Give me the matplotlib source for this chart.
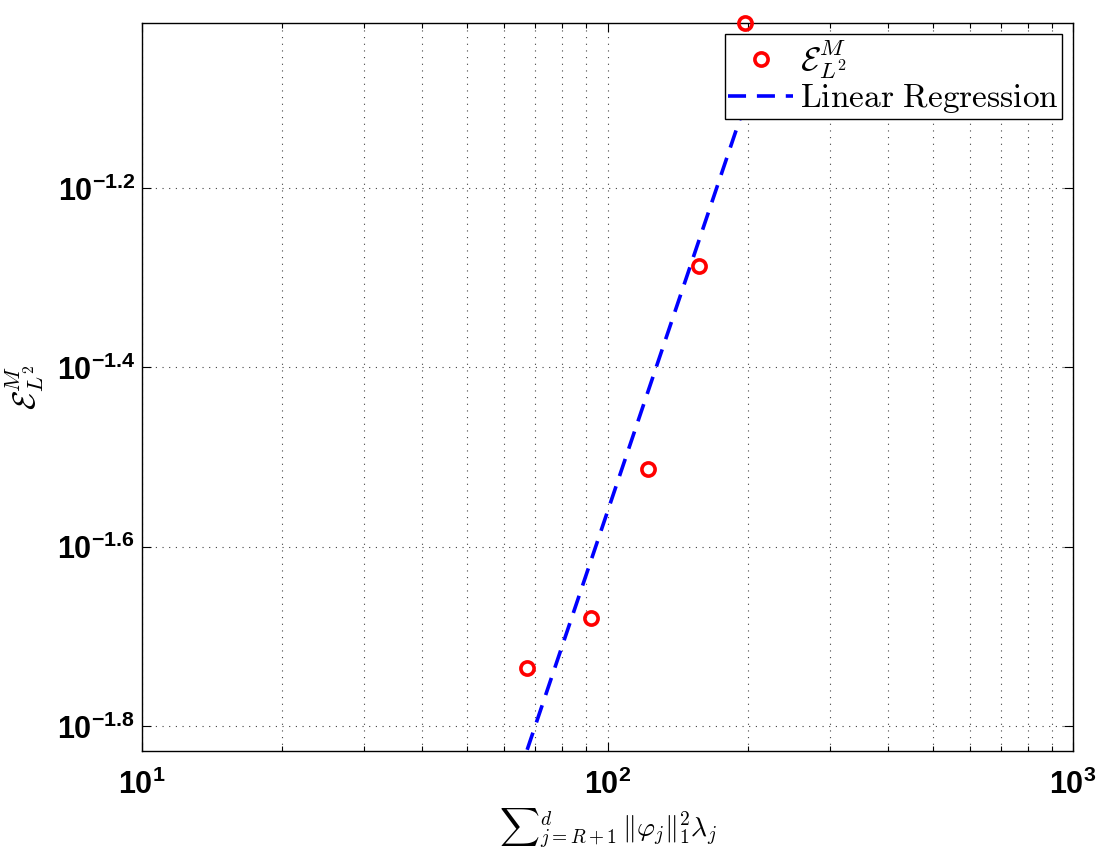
import numpy as np
import matplotlib
matplotlib.use("Agg")
import matplotlib.pyplot as plt
from matplotlib.ticker import FixedLocator, NullLocator, LogLocator

# tick labels in bold sans, axis labels in computer modern
plt.rcParams['mathtext.fontset'] = 'custom'
plt.rcParams['mathtext.rm'] = 'Liberation Sans:bold'
plt.rcParams['mathtext.bf'] = 'Liberation Sans:bold'
plt.rcParams['mathtext.it'] = 'Liberation Sans:bold'
plt.rcParams['mathtext.sf'] = 'Liberation Sans:bold'

# data
sum_phi_lambda = np.array([67.2, 92.2, 122.2, 157.3, 197.4])
err_L2 = np.array([0.01837, 0.02089, 0.03062, 0.05164, 0.09638])

x_ticks = [10, 100, 1000]
x_tick_labels = [r'$\mathbf{10^{1}}$', r'$\mathbf{10^{2}}$', r'$\mathbf{10^{3}}$']
y_exp = [-1.8, -1.6, -1.4, -1.2]
y_tick_labels = [r'$\mathbf{10^{%.1f}}$' % e for e in y_exp]

# linear regression in log-log space
p = np.polyfit(np.log10(sum_phi_lambda), np.log10(err_L2), 1)
fit = 10 ** np.polyval(p, np.log10(sum_phi_lambda))

fig = plt.figure(figsize=(11.07, 8.59), dpi=100)
ax = fig.add_axes([0.1283, 0.1257, 0.841, 0.8475])

ax.plot(sum_phi_lambda, err_L2, 'o', color='red', mfc='none', mew=2.6, ms=9.5,
        clip_on=False, zorder=5, label=r'$\mathcal{E}_{L^2}^{M}$')
ax.plot(sum_phi_lambda, fit, '--', color='blue', lw=2.6, dashes=(5, 3.0),
        zorder=4, label=r'$\mathrm{Linear\ Regression}$')

ax.set_xscale('log')
ax.set_yscale('log')
ax.set_xlim(10, 1000)
ax.set_ylim(10 ** -1.828, err_L2.max())

ax.xaxis.set_major_locator(FixedLocator(x_ticks))
ax.set_xticklabels(x_tick_labels)
ax.xaxis.set_minor_locator(LogLocator(base=10, subs=np.arange(2, 10)))
ax.yaxis.set_major_locator(FixedLocator([10 ** e for e in y_exp]))
ax.set_yticklabels(y_tick_labels)
ax.yaxis.set_minor_locator(NullLocator())

ax.tick_params(which='both', direction='in', top=True, right=True, width=0.8)
ax.tick_params(which='major', length=6.5, labelsize=22)
ax.tick_params(axis='x', which='major', pad=13)
ax.tick_params(axis='y', which='major', pad=5)
ax.tick_params(which='minor', length=3.5)
ax.xaxis.set_tick_params(which='minor', labelbottom=False)

ax.grid(True, which='major', linestyle=(0, (1, 5)), color='0.25', lw=0.8)
ax.grid(True, which='minor', axis='x', linestyle=(0, (1, 5)), color='0.25', lw=0.8)

for s in ax.spines.values():
    s.set_linewidth(1.0)

ax.set_xlabel(r'${\sum}_{j=R+1}^{d}\,\|\varphi_j\|_1^2\lambda_j$', fontsize=20,
              math_fontfamily='cm', labelpad=4)
ax.set_ylabel(r'$\mathcal{E}_{L^2}^{M}$', fontsize=23, math_fontfamily='cm', labelpad=8)

leg = ax.legend(loc='upper right', fontsize=24, frameon=True, fancybox=False,
                edgecolor='black', framealpha=1, borderaxespad=0.33,
                handlelength=1.95, handletextpad=0.2, borderpad=0.1,
                labelspacing=0.0)
leg.get_frame().set_linewidth(1.0)
for t in leg.get_texts():
    t.set_math_fontfamily('cm')

fig.savefig('out.png', dpi=100)
